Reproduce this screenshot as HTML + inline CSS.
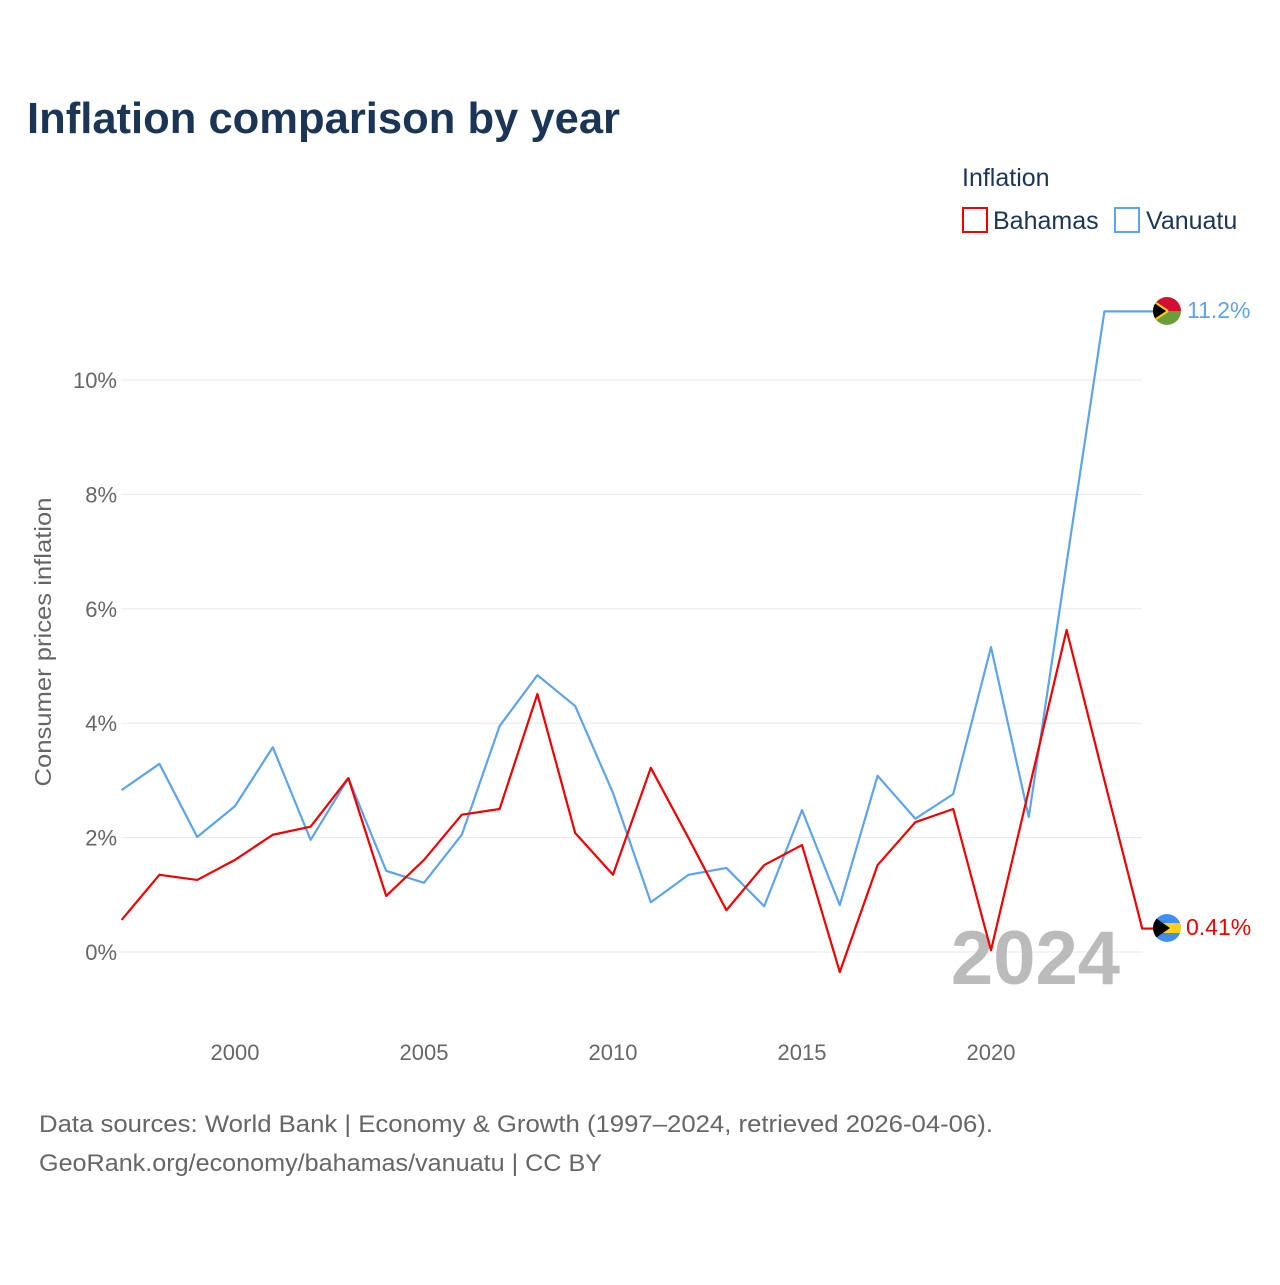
<!DOCTYPE html>
<html><head><meta charset="utf-8"><style>
body{margin:0;background:#fff;font-family:"Liberation Sans",sans-serif}
</style></head><body>
<svg width="1280" height="1280" viewBox="0 0 1280 1280">
<text x="27" y="133" font-size="44" font-weight="bold" fill="#1b3556" textLength="593" lengthAdjust="spacingAndGlyphs">Inflation comparison by year</text>
<text x="962" y="186" font-size="25" fill="#1b3556">Inflation</text>
<g><rect x="963" y="208" width="24" height="24" fill="none" stroke="#e00" stroke-width="2"/><text x="993" y="229" font-size="25" fill="#1b3556">Bahamas</text></g>
<g><rect x="1115" y="208" width="24" height="24" fill="none" stroke="#5da4ea" stroke-width="2"/><text x="1146" y="229" font-size="25" fill="#1b3556">Vanuatu</text></g>
<g id="grid"></g>
<text transform="translate(51,642) rotate(-90)" text-anchor="middle" font-size="23" fill="#666" textLength="289" lengthAdjust="spacingAndGlyphs">Consumer prices inflation</text>
<text x="1120" y="984" text-anchor="end" font-size="76" font-weight="bold" fill="#bbb">2024</text>
<g id="lines"></g>
<g>
<clipPath id="c1"><circle cx="1167" cy="311" r="14"/></clipPath>
<g clip-path="url(#c1)"><rect x="1150" y="297" width="34" height="14" fill="#d21034"/><rect x="1150" y="311" width="34" height="14" fill="#6b9e3a"/><polygon points="1150,297 1168,311 1150,325" fill="#000"/><line x1="1150" y1="299" x2="1168" y2="311" stroke="#fdce12" stroke-width="2"/><line x1="1150" y1="323" x2="1168" y2="311" stroke="#fdce12" stroke-width="2"/></g></g>
<g>
<clipPath id="c2"><circle cx="1167" cy="928" r="14"/></clipPath>
<g clip-path="url(#c2)"><rect x="1150" y="914" width="34" height="28" fill="#3f8ef0"/><rect x="1150" y="923" width="34" height="10" fill="#fcd116"/><polygon points="1150,914 1170,928 1150,942" fill="#000"/></g></g>
<text x="1187" y="318" font-size="23" fill="#5da4ea">11.2%</text>
<text x="1186" y="935" font-size="23" fill="#e00">0.41%</text>
<text x="39" y="1132" font-size="24" fill="#666" textLength="954" lengthAdjust="spacingAndGlyphs">Data sources: World Bank | Economy &amp; Growth (1997–2024, retrieved 2026-04-06).</text>
<text x="39" y="1171" font-size="24" fill="#666" textLength="563" lengthAdjust="spacingAndGlyphs">GeoRank.org/economy/bahamas/vanuatu | CC BY</text>
</svg>
<script>
const years=[1997,1998,1999,2000,2001,2002,2003,2004,2005,2006,2007,2008,2009,2010,2011,2012,2013,2014,2015,2016,2017,2018,2019,2020,2021,2022,2023,2024];
const bahamas=[0.56,1.35,1.26,1.61,2.05,2.19,3.04,0.98,1.61,2.40,2.50,4.51,2.08,1.35,3.22,1.99,0.73,1.52,1.87,-0.35,1.52,2.27,2.50,0.03,2.83,5.63,3.0,0.41];
const vanuatu=[2.83,3.29,2.01,2.55,3.58,1.96,3.04,1.42,1.21,2.05,3.95,4.84,4.30,2.78,0.87,1.35,1.47,0.80,2.48,0.82,3.08,2.33,2.76,5.33,2.36,6.8,11.2];
const yTicks=[0,2,4,6,8,10];
const xTicks=[2000,2005,2010,2015,2020];
const X=y=>121.6+(y-1997)*37.8, Y=v=>952-v*57.2;
const ns="http://www.w3.org/2000/svg";
const g=document.getElementById('grid'), L=document.getElementById('lines');
yTicks.forEach(t=>{
 const l=document.createElementNS(ns,'line');
 
 
 l.setAttribute('x1',121);l.setAttribute('x2',1142);l.setAttribute('y1',Y(t));l.setAttribute('y2',Y(t));l.setAttribute('stroke','#e8e8e8');
 g.appendChild(l);
 const tx=document.createElementNS(ns,'text');
 
 
 tx.setAttribute('x',117);tx.setAttribute('y',Y(t)+8);tx.setAttribute('text-anchor','end');tx.setAttribute('font-size','22');tx.setAttribute('fill','#666');
 tx.textContent=t+'%';g.appendChild(tx);
});
xTicks.forEach(t=>{
 const tx=document.createElementNS(ns,'text');
 
 
 tx.setAttribute('x',X(t));tx.setAttribute('y',1060);tx.setAttribute('text-anchor','middle');tx.setAttribute('font-size','22');tx.setAttribute('fill','#666');
 tx.textContent=t;g.appendChild(tx);
});
function line(vals,color,name){
 let pts=vals.map((v,i)=>X(years[i])+','+Y(v));
 const last=vals.length-1;
 pts.push('1153,'+Y(vals[last]));
 const p=document.createElementNS(ns,'polyline');
 
 
 p.setAttribute('points',pts.join(' '));p.setAttribute('fill','none');p.setAttribute('stroke',color);p.setAttribute('stroke-width','2.2');p.setAttribute('stroke-linejoin','round');
 L.appendChild(p);
}
line(vanuatu,'#5da4ea','vanuatu-line');
line(bahamas,'#ee0000','bahamas-line');
</script>
</body></html>
